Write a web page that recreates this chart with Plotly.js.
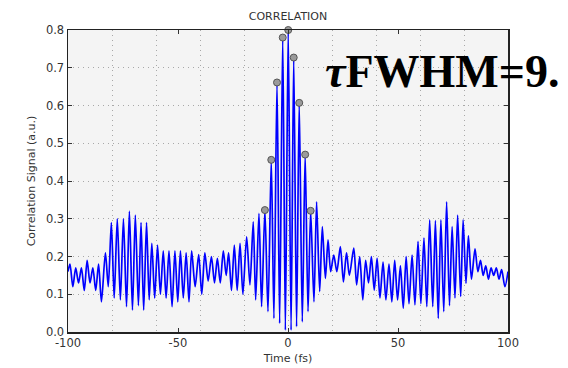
<!DOCTYPE html>
<html>
<head>
<meta charset="utf-8">
<script src="https://cdn.plot.ly/plotly-3.0.1.min.js"></script>
<style>html,body{margin:0;padding:0;background:#fff;}#chart{width:568px;height:368px;}</style>
</head>
<body>
<div id="chart"></div>
<script>
// Delay times (fs) of successive local maxima/minima
const timeFs = [
  -100, -99.1, -97.8, -96.5, -95.2, -93.9, -92.6, -91.3, -90.0, -88.7, -87.4, -86.1,
  -84.8, -83.0, -81.7, -80.3, -79.0, -77.6, -76.2, -74.8, -73.4, -72.1, -70.7, -69.4,
  -68.0, -66.8, -65.6, -64.3, -63.1, -61.9, -60.6, -59.3, -58.0, -56.7, -55.4, -54.1,
  -52.7, -51.4, -50.1, -48.9, -47.6, -46.3, -45.0, -43.8, -42.2, -40.6, -39.2, -37.8,
  -36.3, -34.8, -33.4, -32.1, -30.8, -29.4, -28.1, -27.0, -25.7, -24.4, -23.1, -21.8,
  -20.5, -18.8, -17.3, -15.8, -14.7, -13.2, -12.0, -10.5, -9.1, -7.6, -6.4, -5.0,
  -3.8, -2.4, -1.2, 0.1, 1.4, 2.6, 3.9, 5.1, 6.5, 7.8, 9.1, 10.3,
  11.8, 13.0, 14.4, 15.6, 17.0, 18.2, 19.4, 20.8, 22.2, 23.8, 25.2, 26.6,
  27.9, 29.9, 31.2, 32.6, 34.0, 35.3, 36.6, 37.9, 39.2, 40.5, 41.8, 43.2,
  44.5, 45.9, 47.2, 48.5, 49.8, 51.1, 52.4, 53.7, 55.0, 56.4, 57.7, 59.1,
  60.4, 61.8, 63.1, 64.4, 65.8, 67.0, 68.3, 69.5, 70.8, 72.1, 73.4, 74.6,
  75.9, 77.1, 78.5, 79.6, 80.9, 82.0, 83.4, 85.0, 86.3, 87.5, 88.7, 89.9,
  91.1, 92.3, 93.5, 94.7, 95.9, 97.1, 98.6, 100
];
// Correlation signal (a.u.) at those times
const signal = [
  0.16, 0.18, 0.12, 0.17, 0.13, 0.17, 0.11, 0.19, 0.13, 0.17, 0.11, 0.18,
  0.08, 0.21, 0.12, 0.29, 0.09, 0.30, 0.085, 0.30, 0.067, 0.32, 0.058, 0.31,
  0.07, 0.29, 0.058, 0.29, 0.085, 0.235, 0.09, 0.23, 0.10, 0.215, 0.09, 0.215,
  0.067, 0.215, 0.08, 0.215, 0.09, 0.21, 0.08, 0.215, 0.12, 0.205, 0.10, 0.21,
  0.135, 0.20, 0.13, 0.195, 0.13, 0.215, 0.15, 0.21, 0.11, 0.23, 0.11, 0.235,
  0.10, 0.252, 0.125, 0.292, 0.085, 0.314, 0.067, 0.323, 0.054, 0.456, 0.036, 0.661,
  0.023, 0.78, 0.005, 0.80, 0.005, 0.727, 0.014, 0.607, 0.027, 0.47, 0.054, 0.321,
  0.08, 0.345, 0.107, 0.279, 0.142, 0.244, 0.16, 0.204, 0.16, 0.226, 0.133, 0.21,
  0.15, 0.222, 0.125, 0.20, 0.085, 0.19, 0.13, 0.20, 0.111, 0.195, 0.09, 0.185,
  0.085, 0.18, 0.08, 0.19, 0.085, 0.175, 0.063, 0.20, 0.075, 0.204, 0.072, 0.24,
  0.075, 0.249, 0.067, 0.297, 0.067, 0.295, 0.036, 0.297, 0.054, 0.345, 0.07, 0.279,
  0.09, 0.31, 0.094, 0.297, 0.129, 0.255, 0.14, 0.22, 0.16, 0.19, 0.15, 0.175,
  0.14, 0.17, 0.15, 0.17, 0.14, 0.165, 0.12, 0.16
];
// Circled fringe maxima used for the FWHM estimate
const markTime = [-10.5, -7.6, -5.0, -2.4, 0.1, 2.6, 5.1, 7.8, 10.3];
const markSignal = [0.323, 0.456, 0.661, 0.78, 0.80, 0.727, 0.607, 0.47, 0.321];

const xTicks = [-100, -50, 0, 50, 100];
const xTickText = ['-100', '-50', '0', '50', '100'];
const yTicks = [0, 0.1, 0.2, 0.3, 0.4, 0.5, 0.6, 0.7, 0.8];
const yTickText = ['0.0', '0.1', '0.2', '0.3', '0.4', '0.5', '0.6', '0.7', '0.8'];

const traces = [
  {
    x: timeFs, y: signal, type: 'scatter', mode: 'lines',
    line: {color: '#0000ff', width: 1.7, shape: 'spline', smoothing: 0.8},
    hoverinfo: 'skip', cliponaxis: true
  },
  {
    x: markTime, y: markSignal, type: 'scatter', mode: 'markers',
    marker: {size: 7, color: '#9a9a9a', line: {color: '#555', width: 1}},
    cliponaxis: false
  }
];

const gridCol = '#a8a8a8';
const gridDash = '1px,4px';
const font = {family: 'DejaVu Sans, Verdana, sans-serif', size: 11, color: '#333'};

const layout = {
  width: 568, height: 368,
  margin: {l: 68, r: 60, t: 30, b: 36},
  paper_bgcolor: '#ffffff',
  plot_bgcolor: '#f4f4f4',
  showlegend: false,
  font: font,
  title: {text: 'CORRELATION', font: {family: font.family, size: 11, color: '#333'},
          x: 0.5, xref: 'paper', xanchor: 'center', y: 0.955, yanchor: 'middle'},
  xaxis: {
    range: [-100, 100], tickmode: 'array', tickvals: xTicks, ticktext: xTickText,
    ticks: 'inside', ticklen: 4, tickcolor: '#333', showgrid: false,
    showline: true, linecolor: '#222', linewidth: 1.5, mirror: 'ticks',
    zeroline: false, tickfont: {family: font.family, size: 11.5, color: '#333'},
    minor: {dtick: 20, tick0: 0, showgrid: true, gridcolor: gridCol, griddash: gridDash, gridwidth: 1, ticks: ''},
    title: {text: 'Time (fs)', font: {family: font.family, size: 11, color: '#333'}, standoff: 5}
  },
  yaxis: {
    range: [0, 0.8], tickmode: 'array', tickvals: yTicks, ticktext: yTickText,
    ticks: 'inside', ticklen: 4, tickcolor: '#333',
    showgrid: true, gridcolor: gridCol, griddash: gridDash, gridwidth: 1,
    showline: true, linecolor: '#222', linewidth: 1.5, mirror: 'ticks',
    zeroline: false, tickfont: {family: font.family, size: 11.5, color: '#333'},
    title: {text: 'Correlation Signal (a.u.)', font: {family: font.family, size: 11, color: '#333'}, standoff: 8}
  },
  annotations: [
    {
      xref: 'paper', yref: 'paper', x: 0.58, y: 0.862, xanchor: 'left', yanchor: 'middle',
      text: '<i>τ</i>FWHM=9.', showarrow: false,
      font: {family: 'Liberation Serif, Times New Roman, serif', size: 46, color: '#000', weight: 'bold'}
    }
  ]
};

Plotly.newPlot('chart', traces, layout, {displayModeBar: false, staticPlot: true});
</script>
</body>
</html>
